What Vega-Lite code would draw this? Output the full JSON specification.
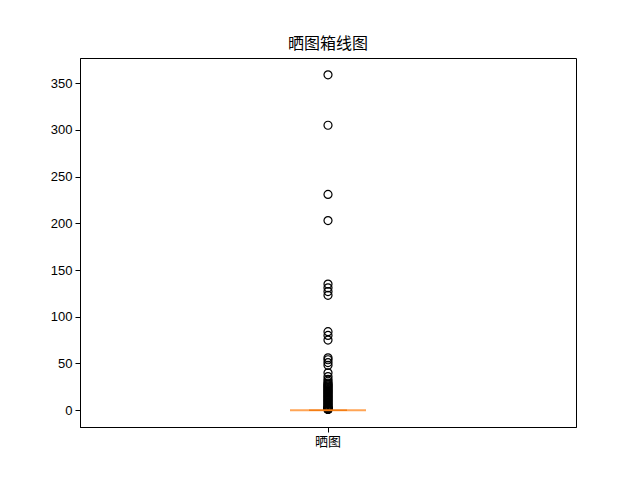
{
  "$schema": "https://vega.github.io/schema/vega-lite/v6.json",
  "width": 496,
  "height": 369,
  "autosize": {"type": "none"},
  "padding": {"left": 80, "top": 58, "right": 64, "bottom": 53},
  "background": "white",
  "title": {"text": "晒图箱线图", "font": "Noto Sans CJK SC", "fontSize": 16, "fontWeight": "normal", "color": "black", "offset": 6},
  "data": {"values": [
    {"g":"晒图","v":359},{"g":"晒图","v":305},{"g":"晒图","v":231},{"g":"晒图","v":203},
    {"g":"晒图","v":135},{"g":"晒图","v":131},{"g":"晒图","v":127},{"g":"晒图","v":123},
    {"g":"晒图","v":84},{"g":"晒图","v":80},{"g":"晒图","v":75},
    {"g":"晒图","v":56},{"g":"晒图","v":54},{"g":"晒图","v":51},{"g":"晒图","v":48},
    {"g":"晒图","v":40},{"g":"晒图","v":36},{"g":"晒图","v":33},{"g":"晒图","v":31},{"g":"晒图","v":29},
    {"g":"晒图","v":28},{"g":"晒图","v":27},{"g":"晒图","v":26},{"g":"晒图","v":25},{"g":"晒图","v":24},
    {"g":"晒图","v":23},{"g":"晒图","v":22},{"g":"晒图","v":21},{"g":"晒图","v":20},{"g":"晒图","v":19},
    {"g":"晒图","v":18},{"g":"晒图","v":17},{"g":"晒图","v":16},{"g":"晒图","v":15},{"g":"晒图","v":14},
    {"g":"晒图","v":13},{"g":"晒图","v":12},{"g":"晒图","v":11},{"g":"晒图","v":10},{"g":"晒图","v":9},
    {"g":"晒图","v":8},{"g":"晒图","v":7},{"g":"晒图","v":6},{"g":"晒图","v":5},{"g":"晒图","v":4},
    {"g":"晒图","v":3},{"g":"晒图","v":3},{"g":"晒图","v":2},{"g":"晒图","v":2},{"g":"晒图","v":2},
    {"g":"晒图","v":1},{"g":"晒图","v":1},{"g":"晒图","v":1},{"g":"晒图","v":1},{"g":"晒图","v":1},
    {"g":"晒图","v":0},{"g":"晒图","v":0},{"g":"晒图","v":0},{"g":"晒图","v":0},{"g":"晒图","v":0},{"g":"晒图","v":0},{"g":"晒图","v":0},{"g":"晒图","v":0},{"g":"晒图","v":0},{"g":"晒图","v":0},
    {"g":"晒图","v":0},{"g":"晒图","v":0},{"g":"晒图","v":0},{"g":"晒图","v":0},{"g":"晒图","v":0},{"g":"晒图","v":0},{"g":"晒图","v":0},{"g":"晒图","v":0},{"g":"晒图","v":0},{"g":"晒图","v":0},
    {"g":"晒图","v":0},{"g":"晒图","v":0},{"g":"晒图","v":0},{"g":"晒图","v":0},{"g":"晒图","v":0},{"g":"晒图","v":0},{"g":"晒图","v":0},{"g":"晒图","v":0},{"g":"晒图","v":0},{"g":"晒图","v":0},
    {"g":"晒图","v":0},{"g":"晒图","v":0},{"g":"晒图","v":0},{"g":"晒图","v":0},{"g":"晒图","v":0},{"g":"晒图","v":0},{"g":"晒图","v":0},{"g":"晒图","v":0},{"g":"晒图","v":0},{"g":"晒图","v":0},
    {"g":"晒图","v":0},{"g":"晒图","v":0},{"g":"晒图","v":0},{"g":"晒图","v":0},{"g":"晒图","v":0},{"g":"晒图","v":0},{"g":"晒图","v":0},{"g":"晒图","v":0},{"g":"晒图","v":0},{"g":"晒图","v":0},
    {"g":"晒图","v":0},{"g":"晒图","v":0},{"g":"晒图","v":0},{"g":"晒图","v":0},{"g":"晒图","v":0},{"g":"晒图","v":0},{"g":"晒图","v":0},{"g":"晒图","v":0},{"g":"晒图","v":0},{"g":"晒图","v":0},
    {"g":"晒图","v":0},{"g":"晒图","v":0},{"g":"晒图","v":0},{"g":"晒图","v":0},{"g":"晒图","v":0},{"g":"晒图","v":0},{"g":"晒图","v":0},{"g":"晒图","v":0},{"g":"晒图","v":0},{"g":"晒图","v":0},
    {"g":"晒图","v":0},{"g":"晒图","v":0},{"g":"晒图","v":0},{"g":"晒图","v":0},{"g":"晒图","v":0},{"g":"晒图","v":0},{"g":"晒图","v":0},{"g":"晒图","v":0},{"g":"晒图","v":0},{"g":"晒图","v":0},
    {"g":"晒图","v":0},{"g":"晒图","v":0},{"g":"晒图","v":0},{"g":"晒图","v":0},{"g":"晒图","v":0},{"g":"晒图","v":0},{"g":"晒图","v":0},{"g":"晒图","v":0},{"g":"晒图","v":0},{"g":"晒图","v":0},
    {"g":"晒图","v":0},{"g":"晒图","v":0},{"g":"晒图","v":0},{"g":"晒图","v":0},{"g":"晒图","v":0},{"g":"晒图","v":0},{"g":"晒图","v":0},{"g":"晒图","v":0},{"g":"晒图","v":0},{"g":"晒图","v":0},
    {"g":"晒图","v":0},{"g":"晒图","v":0},{"g":"晒图","v":0},{"g":"晒图","v":0},{"g":"晒图","v":0},{"g":"晒图","v":0},{"g":"晒图","v":0},{"g":"晒图","v":0},{"g":"晒图","v":0},{"g":"晒图","v":0},
    {"g":"晒图","v":0},{"g":"晒图","v":0},{"g":"晒图","v":0},{"g":"晒图","v":0},{"g":"晒图","v":0},{"g":"晒图","v":0},{"g":"晒图","v":0},{"g":"晒图","v":0},{"g":"晒图","v":0},{"g":"晒图","v":0},
    {"g":"晒图","v":0},{"g":"晒图","v":0},{"g":"晒图","v":0},{"g":"晒图","v":0},{"g":"晒图","v":0},{"g":"晒图","v":0},{"g":"晒图","v":0},{"g":"晒图","v":0},{"g":"晒图","v":0},{"g":"晒图","v":0},
    {"g":"晒图","v":0},{"g":"晒图","v":0},{"g":"晒图","v":0},{"g":"晒图","v":0},{"g":"晒图","v":0},{"g":"晒图","v":0},{"g":"晒图","v":0},{"g":"晒图","v":0},{"g":"晒图","v":0},{"g":"晒图","v":0},
    {"g":"晒图","v":0},{"g":"晒图","v":0},{"g":"晒图","v":0},{"g":"晒图","v":0},{"g":"晒图","v":0},{"g":"晒图","v":0},{"g":"晒图","v":0},{"g":"晒图","v":0},{"g":"晒图","v":0},{"g":"晒图","v":0},
    {"g":"晒图","v":0},{"g":"晒图","v":0},{"g":"晒图","v":0},{"g":"晒图","v":0},{"g":"晒图","v":0},{"g":"晒图","v":0},{"g":"晒图","v":0},{"g":"晒图","v":0},{"g":"晒图","v":0},{"g":"晒图","v":0},
    {"g":"晒图","v":0},{"g":"晒图","v":0},{"g":"晒图","v":0},{"g":"晒图","v":0},{"g":"晒图","v":0},{"g":"晒图","v":0},{"g":"晒图","v":0},{"g":"晒图","v":0},{"g":"晒图","v":0},{"g":"晒图","v":0},
    {"g":"晒图","v":0},{"g":"晒图","v":0},{"g":"晒图","v":0},{"g":"晒图","v":0},{"g":"晒图","v":0},{"g":"晒图","v":0},{"g":"晒图","v":0},{"g":"晒图","v":0},{"g":"晒图","v":0},{"g":"晒图","v":0},
    {"g":"晒图","v":0},{"g":"晒图","v":0},{"g":"晒图","v":0},{"g":"晒图","v":0},{"g":"晒图","v":0},{"g":"晒图","v":0},{"g":"晒图","v":0},{"g":"晒图","v":0},{"g":"晒图","v":0},{"g":"晒图","v":0}
  ]},
  "mark": {
    "type": "boxplot",
    "extent": 1.5,
    "size": 76,
    "box": {"color": "white", "fill": "white", "stroke": "#ff7f0e", "strokeWidth": 0},
    "median": {"color": "#ff7f0e", "fill": "#ff7f0e", "stroke": "#ff7f0e", "strokeWidth": 0, "thickness": 2},
    "rule": {"color": "black", "strokeWidth": 1},
    "ticks": {"color": "#d96f12", "size": 38, "thickness": 1},
    "outliers": {"shape": "circle", "filled": false, "color": "black", "stroke": "black", "strokeWidth": 1.2, "size": 64, "opacity": 1}
  },
  "encoding": {
    "x": {"field": "g", "type": "nominal", "axis": {"title": null, "labelAngle": 0, "labelFont": "Noto Sans CJK SC", "labelFontSize": 13, "labelPadding": 3}},
    "y": {"field": "v", "type": "quantitative", "scale": {"domain": [-18, 377], "nice": false, "zero": false}, "axis": {"title": null, "values": [0, 50, 100, 150, 200, 250, 300, 350], "grid": false, "labelFont": "Liberation Sans", "labelFontSize": 13, "labelPadding": 3}}
  },
  "config": {
    "view": {"stroke": "black", "strokeWidth": 1},
    "axis": {"domainColor": "black", "tickColor": "black", "tickSize": 5, "labelColor": "black", "grid": false}
  }
}
